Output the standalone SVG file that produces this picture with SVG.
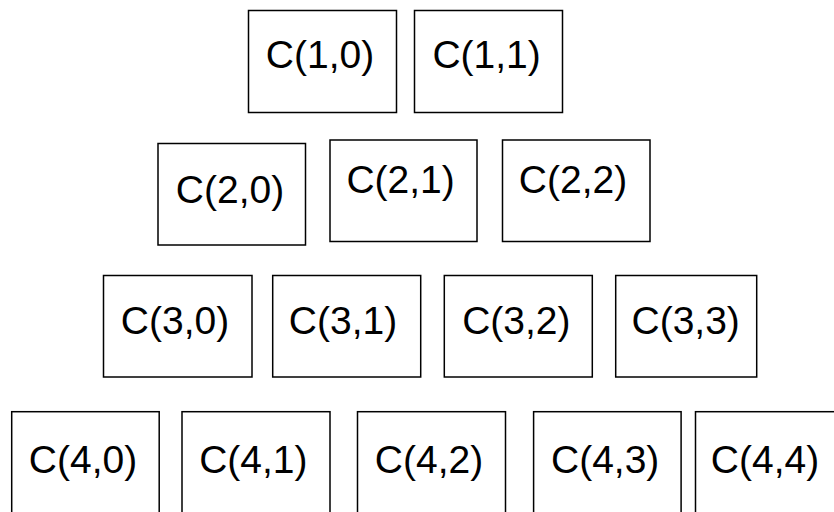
<svg xmlns="http://www.w3.org/2000/svg" width="834" height="512" viewBox="0 0 834 512">
<style>
.box{fill:#ffffff;stroke:#000000;stroke-width:1.5}
text{font-family:"Liberation Sans",Arial,sans-serif;font-size:39px;fill:#000000}
</style>
<g id="connectors"></g>
<g id="c10"><rect class="box" x="248.5" y="10.5" width="148" height="102"/><text x="265.8" y="67.5">C(1,0)</text></g>
<g id="c11"><rect class="box" x="414.5" y="10.5" width="148" height="102"/><text x="432.4" y="67.5">C(1,1)</text></g>
<g id="c20"><rect class="box" x="158" y="143.5" width="147.5" height="101.5"/><text x="175.8" y="203.3">C(2,0)</text></g>
<g id="c21"><rect class="box" x="330" y="140" width="147" height="101.5"/><text x="346.4" y="193">C(2,1)</text></g>
<g id="c22"><rect class="box" x="502.5" y="140" width="147.5" height="101.5"/><text x="518.8" y="193">C(2,2)</text></g>
<g id="c30"><rect class="box" x="103.5" y="275.5" width="148.5" height="101.5"/><text x="120.8" y="333.5">C(3,0)</text></g>
<g id="c31"><rect class="box" x="272.7" y="275.5" width="148" height="101.5"/><text x="288.8" y="333.5">C(3,1)</text></g>
<g id="c32"><rect class="box" x="444.3" y="275.5" width="148" height="101.5"/><text x="462.2" y="333.5">C(3,2)</text></g>
<g id="c33"><rect class="box" x="615.7" y="275.5" width="141" height="101.5"/><text x="631.5" y="333.5">C(3,3)</text></g>
<g id="c40"><rect class="box" x="11.7" y="411.7" width="147.5" height="120"/><text x="28.8" y="472.7">C(4,0)</text></g>
<g id="c41"><rect class="box" x="182" y="411.7" width="148" height="120"/><text x="199.2" y="472.7">C(4,1)</text></g>
<g id="c42"><rect class="box" x="357.5" y="411.7" width="148" height="120"/><text x="374.8" y="472.7">C(4,2)</text></g>
<g id="c43"><rect class="box" x="533.6" y="411.7" width="147.5" height="120"/><text x="551" y="472.7">C(4,3)</text></g>
<g id="c44"><rect class="box" x="695.5" y="411.7" width="148" height="120"/><text x="710.8" y="472.7">C(4,4)</text></g>
</svg>
